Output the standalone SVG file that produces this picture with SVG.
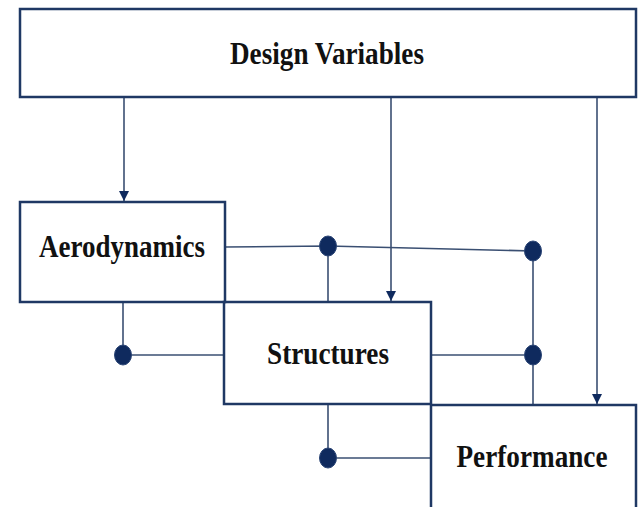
<svg xmlns="http://www.w3.org/2000/svg" width="638" height="507" viewBox="0 0 638 507">
  <defs>
    <style>
      .box { fill: #ffffff; stroke: #1f3864; stroke-width: 2.5; }
      .lbl { font-family: "Liberation Serif", "Times New Roman", serif; font-weight: bold; font-size: 31px; fill: #111111; }
      .wire { fill: none; stroke: #3a4f72; stroke-width: 1.6; }
      .dot { fill: #0f2a5e; stroke: #2c4676; stroke-width: 1; }
    </style>
    <marker id="arrow" viewBox="0 0 10 10" refX="10" refY="5" markerWidth="10" markerHeight="12" markerUnits="userSpaceOnUse" orient="auto">
      <path d="M0,0 L10,5 L0,10 Z" fill="#0f2a5e"/>
    </marker>
  </defs>

  <rect width="638" height="507" fill="#ffffff"/>

  <!-- connectors -->
  <g id="connectors">
    <line class="wire" x1="124" y1="97" x2="124" y2="201" marker-end="url(#arrow)"/>
    <line class="wire" x1="391" y1="97" x2="391" y2="301" marker-end="url(#arrow)"/>
    <line class="wire" x1="597" y1="97" x2="597" y2="404" marker-end="url(#arrow)"/>
    <!-- Aerodynamics coupling -->
    <polyline class="wire" points="225,247 328,246 533,251"/>
    <line class="wire" x1="328" y1="246" x2="328" y2="302"/>
    <line class="wire" x1="533" y1="251" x2="533" y2="405"/>
    <line class="wire" x1="123" y1="302" x2="123" y2="355"/>
    <line class="wire" x1="123" y1="355" x2="224" y2="355"/>
    <!-- Structures coupling -->
    <line class="wire" x1="431" y1="355" x2="533" y2="355"/>
    <line class="wire" x1="328" y1="404" x2="328" y2="458"/>
    <line class="wire" x1="328" y1="458" x2="431" y2="458"/>
  </g>

  <g id="design-variables">
    <rect class="box" x="20" y="9" width="616" height="88"/>
    <text class="lbl" x="327" y="64" text-anchor="middle" textLength="194" lengthAdjust="spacingAndGlyphs">Design Variables</text>
  </g>

  <g id="aerodynamics">
    <rect class="box" x="20" y="202" width="205" height="100"/>
    <text class="lbl" x="122" y="257" text-anchor="middle" textLength="166" lengthAdjust="spacingAndGlyphs">Aerodynamics</text>
  </g>

  <g id="structures">
    <rect class="box" x="224" y="302" width="207" height="102" fill-opacity="0"/>
    <text class="lbl" x="328" y="364" text-anchor="middle" textLength="122" lengthAdjust="spacingAndGlyphs">Structures</text>
  </g>

  <g id="performance">
    <rect class="box" x="431" y="405" width="205" height="104"/>
    <text class="lbl" x="532" y="467" text-anchor="middle" textLength="151" lengthAdjust="spacingAndGlyphs">Performance</text>
  </g>

  <g id="junctions">
    <ellipse class="dot" cx="328" cy="246" rx="8.5" ry="10"/>
    <ellipse class="dot" cx="533" cy="251" rx="8.5" ry="10"/>
    <ellipse class="dot" cx="123" cy="355" rx="8.5" ry="10"/>
    <ellipse class="dot" cx="533" cy="355" rx="8.5" ry="10"/>
    <ellipse class="dot" cx="328" cy="458" rx="8.5" ry="10"/>
  </g>
</svg>
